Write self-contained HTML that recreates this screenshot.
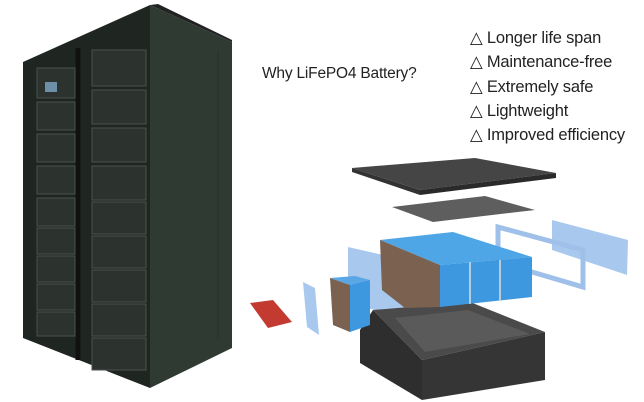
<!DOCTYPE html>
<html><head><style>
body{margin:0;width:644px;height:402px;background:#fff;overflow:hidden;position:relative;font-family:"Liberation Sans",sans-serif}
.t{position:absolute;color:#222;font-size:16.5px;white-space:nowrap;letter-spacing:-0.2px}
</style></head><body>
<svg width="644" height="402" style="position:absolute;left:0;top:0">
<polygon points="150,5 232,42 232,348 150,388" fill="#2f3a33"/>
<polygon points="150,5 158,4 232,40 232,42" fill="#222"/>
<polygon points="23,62 150,5 150,388 23,338" fill="#1f2622"/>
<line x1="78" y1="48" x2="78" y2="360" stroke="#111" stroke-width="5"/>
<line x1="218" y1="50" x2="218" y2="340" stroke="#283028" stroke-width="1"/>
<g fill="#2c332e" stroke="#4a524c" stroke-width="1">
<rect x="37" y="68" width="38" height="30"/>
<rect x="37" y="102" width="38" height="28"/>
<rect x="37" y="134" width="38" height="28"/>
<rect x="37" y="166" width="38" height="28"/>
<rect x="37" y="198" width="38" height="28"/>
<rect x="37" y="228" width="38" height="26"/>
<rect x="37" y="256" width="38" height="26"/>
<rect x="37" y="284" width="38" height="26"/>
<rect x="37" y="312" width="38" height="24"/>
<rect x="92" y="50" width="54" height="36"/>
<rect x="92" y="90" width="54" height="34"/>
<rect x="92" y="128" width="54" height="34"/>
<rect x="92" y="166" width="54" height="34"/>
<rect x="92" y="202" width="54" height="32"/>
<rect x="92" y="236" width="54" height="32"/>
<rect x="92" y="270" width="54" height="32"/>
<rect x="92" y="304" width="54" height="32"/>
<rect x="92" y="338" width="54" height="32"/>
</g>
<rect x="45" y="82" width="12" height="10" fill="#6d8fa8"/>
<polygon points="352,168 475,158 556,173 420,190" fill="#454545"/>
<polygon points="352,168 420,190 420,195 352,172" fill="#333"/>
<polygon points="420,190 556,173 556,178 420,195" fill="#2a2a2a"/>
<polygon points="392,207 485,196 535,210 433,222" fill="#5e5e5e"/>
<polygon points="552,220 628,240 627,275 552,250" fill="#a9c8ee"/>
<polygon points="498,227 583,250 583,287 498,262" fill="none" stroke="#9fc0e8" stroke-width="5"/>
<polygon points="303,282 315,288 319,335 307,327" fill="#a9c8ee"/>
<polygon points="348,247 405,260 405,318 348,303" fill="#a9c8ee"/>
<polygon points="373,310 470,302 545,332 422,360" fill="#4a4a4a"/>
<polygon points="395,318 468,310 530,334 425,352" fill="#5a5a5a"/>
<polygon points="360,330 373,310 422,360 422,400 360,363" fill="#2e2e2e"/>
<polygon points="422,360 545,332 545,380 422,400" fill="#353535"/>
<polygon points="380,240 453,232 532,257 440,265" fill="#4ea6e6"/>
<polygon points="380,240 440,265 440,307 405,308 382,290" fill="#7a6150"/>
<polygon points="440,265 532,257 532,297 440,307" fill="#3d98df"/>
<g stroke="#ddd" stroke-width="1.5"><line x1="470" y1="262" x2="470" y2="304"/><line x1="500" y1="260" x2="500" y2="301"/></g>
<polygon points="330,278 355,276 370,280 350,285" fill="#5aa7e6"/>
<polygon points="330,278 350,285 350,332 333,325" fill="#7a6150"/>
<polygon points="350,285 370,280 370,325 350,332" fill="#3d98df"/>
<polygon points="250,303 273,300 292,322 268,328" fill="#c23a30"/>
</svg>
<div class="t" style="left:262px;top:65px;font-size:15.5px">Why LiFePO4 Battery?</div>
<div class="t" style="left:470px;top:28px">△ Longer life span</div>
<div class="t" style="left:470px;top:52px">△ Maintenance-free</div>
<div class="t" style="left:470px;top:77px">△ Extremely safe</div>
<div class="t" style="left:470px;top:101px">△ Lightweight</div>
<div class="t" style="left:470px;top:125px">△ Improved efficiency</div>
</body></html>
